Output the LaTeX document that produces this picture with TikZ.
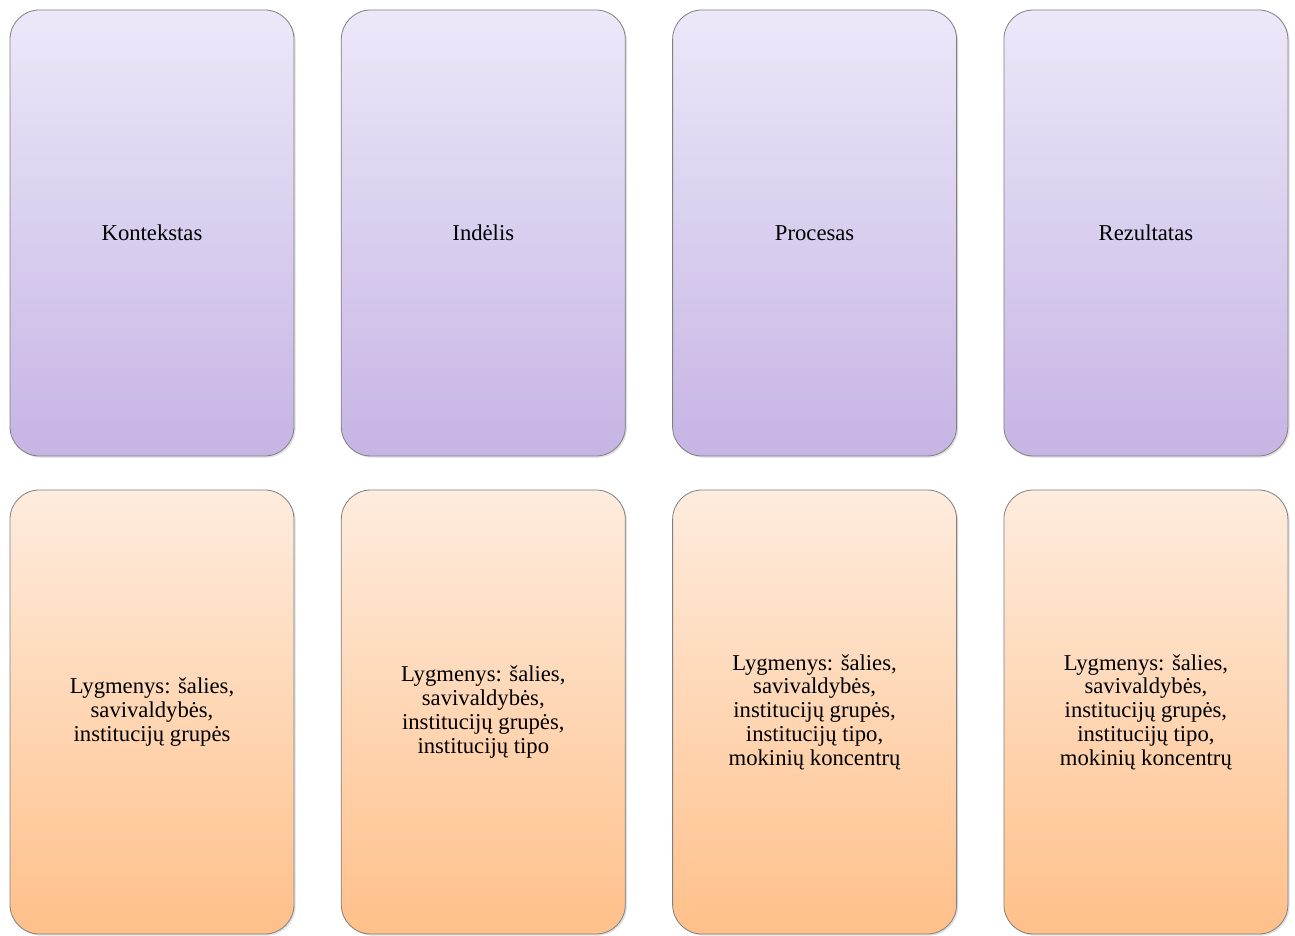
\documentclass[tikz,border=0pt]{standalone}
\usepackage{fontspec}
\setmainfont{Liberation Serif}
\usepackage{tikz}
\usetikzlibrary{shadows}
\definecolor{lavtop}{RGB}{236,232,249}
\definecolor{lavbot}{RGB}{198,180,228}
\definecolor{peachtop}{RGB}{254,236,222}
\definecolor{peachbot}{RGB}{255,192,138}
\tikzstyle{card} = [draw=black!50, line width=0.6pt, rounded corners=22pt, minimum width=213pt, align=center, font={\fontsize{17}{17.8}\selectfont}, drop shadow={opacity=0.25, shadow xshift=1.2pt, shadow yshift=-1.2pt}]
\tikzstyle{stage} = [card, minimum height=334.5pt, top color=lavtop, bottom color=lavbot]
\tikzstyle{level} = [card, minimum height=333pt, top color=peachtop, bottom color=peachbot]

\begin{document}
\begin{tikzpicture}[x=0.75pt,y=0.75pt]
        \useasboundingbox (0,0) rectangle (1295,935);
        \node[stage](0) at (152,702){Kontekstas};
        \node[stage](1) at (483.3,702){Indėlis};
        \node[stage](2) at (814.6,702){Procesas};
        \node[stage](3) at (1145.9,702){Rezultatas};
        \node[level](4) at (152,223){Lygmenys: šalies,\\savivaldybės,\\institucijų grupės};
        \node[level](5) at (483.3,223){Lygmenys: šalies,\\savivaldybės,\\institucijų grupės,\\institucijų tipo};
        \node[level](6) at (814.6,223){Lygmenys: šalies,\\savivaldybės,\\institucijų grupės,\\institucijų tipo,\\mokinių koncentrų};
        \node[level](7) at (1145.9,223){Lygmenys: šalies,\\savivaldybės,\\institucijų grupės,\\institucijų tipo,\\mokinių koncentrų};
      \end{tikzpicture}
\end{document}
